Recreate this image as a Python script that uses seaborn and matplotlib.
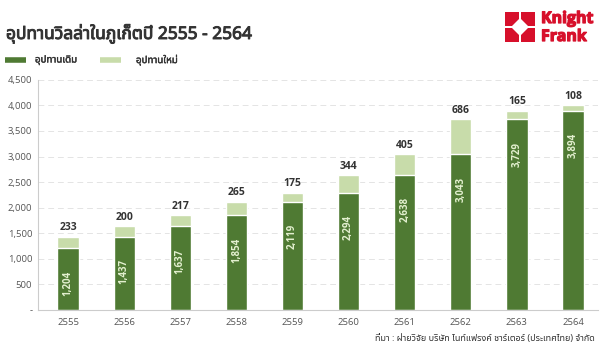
import matplotlib
matplotlib.use("Agg")
import matplotlib.pyplot as plt
import matplotlib.patches as mpatches
import matplotlib.patheffects as pe
from matplotlib import font_manager
import seaborn as sns
import pandas as pd

# data
years = ["2555", "2556", "2557", "2558", "2559", "2560", "2561", "2562", "2563", "2564"]
old_supply = [1204, 1437, 1637, 1854, 2119, 2294, 2638, 3043, 3729, 3894]
new_supply = [233, 200, 217, 265, 175, 344, 405, 686, 165, 108]
yticks = [0, 500, 1000, 1500, 2000, 2500, 3000, 3500, 4000, 4500]

title = "อุปทานวิลล่าในภูเก็ตปี 2555 - 2564"
legend_labels = ["อุปทานเดิม", "อุปทานใหม่"]
source = "ที่มา : ฝ่ายวิจัย บริษัท ไนท์แฟรงค์ ชาร์เตอร์ (ประเทศไทย) จำกัด"

DARK = "#4f7a33"
LIGHT = "#c8dcaa"
RED = "#d7102b"

sns.set_theme(style="white")
names = {f.name for f in font_manager.fontManager.ttflist}
thai = [n for n in ["Noto Sans Thai", "Noto Sans Thai Looped", "Loma", "Garuda",
                    "Kinnari", "Tlwg Typo", "Norasi", "Waree"] if n in names]
plt.rcParams["font.family"] = thai + ["Open Sans", "DejaVu Sans"]
LATIN = ["Open Sans", "DejaVu Sans"]
bold_fx = [pe.withStroke(linewidth=0.7, foreground="#333333")]

df = pd.DataFrame({"year": years, "old": old_supply, "new": new_supply})
df["total"] = df["old"] + df["new"]

fig = plt.figure(figsize=(6, 3.58), dpi=100)
ax = fig.add_axes([0.063, 0.134, 0.934, 0.643])

sns.barplot(data=df, x="year", y="total", color=LIGHT, width=0.38,
            saturation=1, ax=ax)
sns.barplot(data=df, x="year", y="old", color=DARK, width=0.38,
            saturation=1, ax=ax)

ax.set_xlim(-0.54, 9.45)
ax.set_ylim(0, 4500)
ax.set_yticks(yticks)
ax.set_yticklabels(["-" if v == 0 else f"{v:,}" for v in yticks])
ax.set_xlabel("")
ax.set_ylabel("")
ax.tick_params(axis="both", length=0, labelsize=6.8, colors="#555555")
ax.tick_params(axis="x", pad=6)
ax.tick_params(axis="y", pad=4)
for lab in ax.get_xticklabels() + ax.get_yticklabels():
    lab.set_family(LATIN)
ax.yaxis.grid(True, linestyle=(0, (6, 4)), color="#e4e4e4", linewidth=0.7)
ax.set_axisbelow(True)
for s in ["top", "right"]:
    ax.spines[s].set_visible(False)
ax.spines["left"].set_color("#cccccc")
ax.spines["bottom"].set_color("#cccccc")
ax.spines["left"].set_linewidth(0.8)
ax.spines["bottom"].set_linewidth(0.8)

for i, row in df.iterrows():
    ax.text(i, row["total"] + 70, f"{row['new']:,}", ha="center", va="bottom",
            fontsize=7.5, fontweight="bold", color="#333333", family=LATIN)
    ax.text(i, row["old"] - 680, f"{row['old']:,}", ha="center", va="center",
            rotation=90, fontsize=7, fontweight="bold", color="#e3f0cf",
            family=LATIN)

fig.text(0.01, 0.905, title, fontsize=12.5, color="#333333",
         ha="left", va="center", path_effects=bold_fx)

# legend
ly = 1 - 60 / 358
fig.add_artist(plt.Line2D([5 / 600, 26 / 600], [ly, ly], color=DARK, lw=4,
                          solid_capstyle="butt"))
fig.text(35 / 600, ly, legend_labels[0], fontsize=7, color="#333333", va="center",
         path_effects=[pe.withStroke(linewidth=0.3, foreground="#333333")])
fig.add_artist(plt.Line2D([100 / 600, 121 / 600], [ly, ly], color=LIGHT, lw=4,
                          solid_capstyle="butt"))
fig.text(136 / 600, ly, legend_labels[1], fontsize=7, color="#333333", va="center",
         path_effects=[pe.withStroke(linewidth=0.3, foreground="#333333")])

fig.text(0.992, 1 - 338 / 358, source, fontsize=6.5, color="#333333",
         ha="right", va="center")

# logo
def px(x, y):
    return (x / 600, 1 - y / 358)

logo = [
    [(505, 12), (519, 12), (519, 19), (512, 26), (505, 26)],
    [(521, 12), (535, 12), (535, 26), (528, 26), (521, 19)],
    [(505, 28), (512, 28), (519, 35), (519, 42), (505, 42)],
    [(528, 28), (535, 28), (535, 42), (521, 42), (521, 35)],
]
for poly in logo:
    fig.add_artist(mpatches.Polygon([px(*p) for p in poly], closed=True,
                                    facecolor=RED, edgecolor="none",
                                    transform=fig.transFigure))
logo_fx = [pe.withStroke(linewidth=0.9, foreground=RED)]
fig.text(541 / 600, 1 - 19 / 358, "Knight", fontsize=11.5, fontweight="bold",
         color=RED, va="center", ha="left", family=LATIN, path_effects=logo_fx)
fig.text(541 / 600, 1 - 37 / 358, "Frank", fontsize=11.5, fontweight="bold",
         color=RED, va="center", ha="left", family=LATIN, path_effects=logo_fx)

fig.savefig("out.png", dpi=100, facecolor="white")
